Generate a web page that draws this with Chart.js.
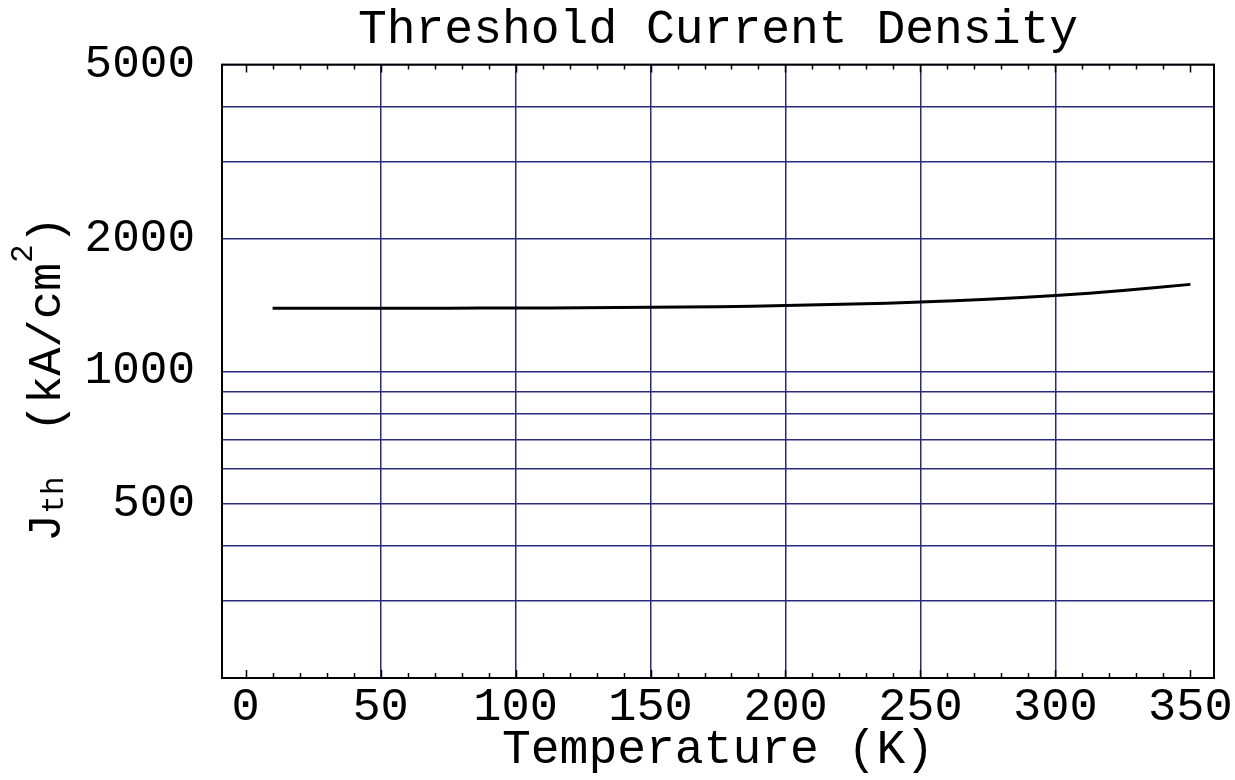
<!DOCTYPE html>
<html>
<head>
<meta charset="utf-8">
<title>Threshold Current Density</title>
<script src="https://cdn.jsdelivr.net/npm/chart.js@4/dist/chart.umd.min.js"></script>
<style>
  html, body { margin: 0; padding: 0; background: #fff; }
  #wrap { width: 1235px; height: 780px; }
</style>
</head>
<body>
<div id="wrap"><canvas id="jthChart" width="1235" height="780"></canvas></div>
<script>
// temperature (K) and threshold current density (kA/cm^2)
const temperature = [10, 25, 50, 75, 100, 125, 150, 175, 200, 225, 250, 275, 300, 325, 350];
const jth = [1392, 1392, 1392, 1393, 1394, 1396, 1399, 1404, 1412, 1423, 1438, 1459, 1488, 1528, 1578];

const xTicks = [0, 50, 100, 150, 200, 250, 300, 350];
const xMinorTicks = [0, 10, 20, 30, 40, 50, 60, 70, 80, 90, 100, 110, 120, 130, 140, 150, 160, 170,
  180, 190, 200, 210, 220, 230, 240, 250, 260, 270, 280, 290, 300, 310, 320, 330, 340, 350];
const yTicks = [300, 400, 500, 600, 700, 800, 900, 1000, 2000, 3000, 4000, 5000];
const yLabels = [500, 1000, 2000, 5000];

const FONT = "'Liberation Mono', 'Courier New', monospace";
const GRID = '#2a2a7c';

// box around the plot plus the small inward ticks on top and bottom
const framePlugin = {
  id: 'frame',
  afterDraw(chart) {
    const { ctx, chartArea: a } = chart;
    const x = chart.scales.x;
    ctx.save();
    ctx.strokeStyle = '#000';
    ctx.lineWidth = 2;
    ctx.strokeRect(a.left, a.top, a.right - a.left, a.bottom - a.top);
    ctx.lineWidth = 1.5;
    xMinorTicks.forEach(function(v) {
      const px = Math.round(x.getPixelForValue(v)) + 0.5;
      const len = v % 50 === 0 ? 8 : 5;
      ctx.beginPath();
      ctx.moveTo(px, a.bottom);
      ctx.lineTo(px, a.bottom - len);
      ctx.moveTo(px, a.top);
      ctx.lineTo(px, a.top + len);
      ctx.stroke();
    });
    ctx.restore();
  }
};

// rotated y title with subscript and superscript
const yTitlePlugin = {
  id: 'yTitle',
  afterDraw(chart) {
    const ctx = chart.ctx;
    const parts = [
      { t: 'J', size: 47, dy: 0 },
      { t: 'th', size: 31, dy: 3 },
      { t: '  ', size: 37, dy: 0 },
      { t: '(kA/cm', size: 47, dy: 0 },
      { t: '2', size: 31, dy: -28 },
      { t: ')', size: 47, dy: 0 }
    ];
    ctx.save();
    let total = 0;
    parts.forEach(function(p) {
      ctx.font = p.size + 'px ' + FONT;
      p.w = ctx.measureText(p.t).width;
      total += p.w;
    });
    ctx.translate(60, 379);
    ctx.rotate(-Math.PI / 2);
    ctx.fillStyle = '#000';
    ctx.textBaseline = 'alphabetic';
    let cx = -total / 2;
    parts.forEach(function(p) {
      ctx.font = p.size + 'px ' + FONT;
      ctx.fillText(p.t, cx, p.dy);
      cx += p.w;
    });
    ctx.restore();
  }
};

const ctx = document.getElementById('jthChart').getContext('2d');
const jthChart = new Chart(ctx, {
  type: 'line',
  data: {
    datasets: [{
      data: temperature.map(function(t, i) { return { x: t, y: jth[i] }; }),
      borderColor: '#000',
      borderWidth: 3,
      pointRadius: 0,
      fill: false,
      tension: 0.3
    }]
  },
  options: {
    responsive: false,
    animation: false,
    layout: { padding: { left: 0, right: 21, top: 0, bottom: 0 } },
    plugins: {
      legend: { display: false },
      tooltip: { enabled: false },
      title: {
        display: true,
        fullSize: false,
        text: 'Threshold Current Density',
        color: '#000',
        font: { family: FONT, size: 48, weight: 'normal' },
        padding: { top: 1, bottom: 6 }
      }
    },
    scales: {
      x: {
        type: 'linear',
        min: -8.75,
        max: 358.75,
        afterBuildTicks: function(scale) {
          scale.ticks = xTicks.map(function(v) { return { value: v }; });
        },
        afterFit: function(scale) { scale.height = 102; },
        border: { display: false },
        grid: {
          drawTicks: false,
          lineWidth: 1.5,
          color: function(c) {
            const v = c.tick && c.tick.value;
            return (v === 0 || v === 350) ? 'rgba(0,0,0,0)' : GRID;
          }
        },
        ticks: {
          autoSkip: false,
          maxRotation: 0,
          padding: 1,
          color: '#000',
          font: { family: FONT, size: 47 }
        },
        title: {
          display: true,
          text: 'Temperature (K)',
          color: '#000',
          font: { family: FONT, size: 48 },
          padding: { top: 0, bottom: 1 }
        }
      },
      y: {
        type: 'logarithmic',
        min: 200,
        max: 5000,
        afterBuildTicks: function(scale) {
          scale.ticks = yTicks.map(function(v) { return { value: v }; });
        },
        afterFit: function(scale) { scale.width = 222; },
        border: { display: false },
        grid: {
          drawTicks: false,
          lineWidth: 1.5,
          color: GRID
        },
        ticks: {
          autoSkip: false,
          padding: 27,
          color: '#000',
          font: { family: FONT, size: 46 },
          callback: function(v) { return yLabels.indexOf(v) >= 0 ? String(v) : ''; }
        }
      }
    }
  },
  plugins: [framePlugin, yTitlePlugin]
});
</script>
</body>
</html>
